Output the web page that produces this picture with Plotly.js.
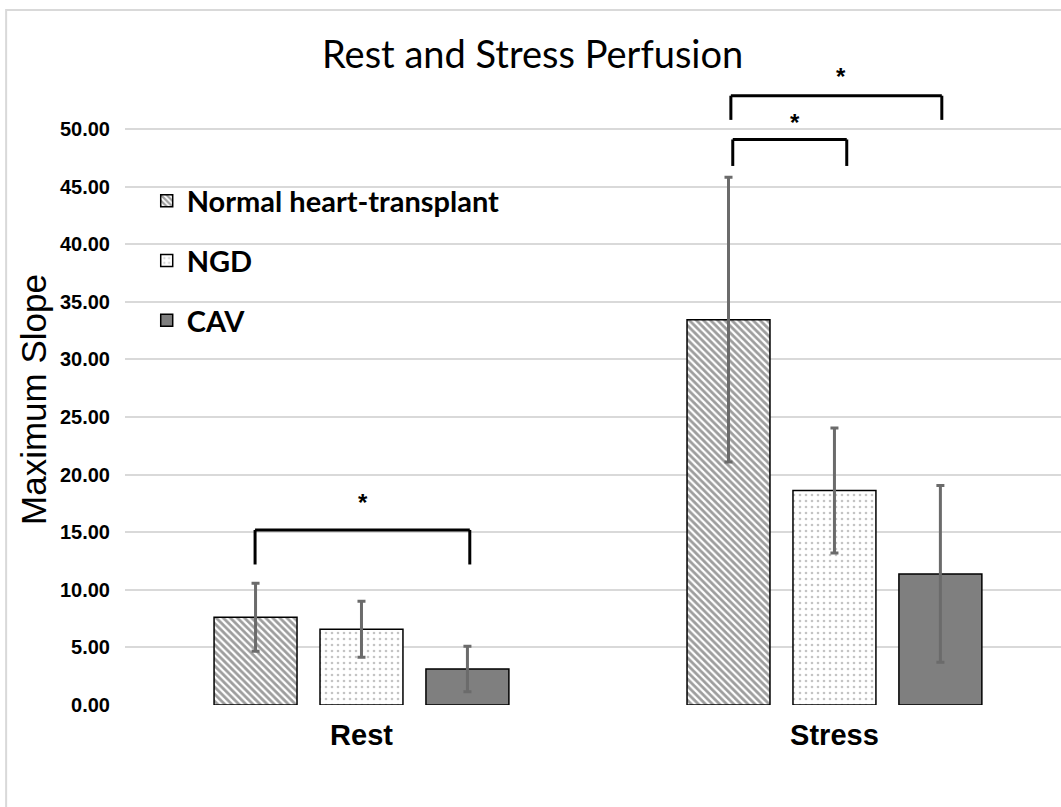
<!DOCTYPE html>
<html>
<head>
<meta charset="utf-8">
<script src="https://cdn.plot.ly/plotly-3.0.1.min.js"></script>
<style>
  html, body { margin: 0; padding: 0; background: #ffffff; }
  #chart { width: 1061px; height: 807px; }
</style>
</head>
<body>
<div id="chart"></div>
<script>
// ---- data ----
var categories = ['Rest', 'Stress'];
var seriesNames = ['Normal heart-transplant', 'NGD', 'CAV'];
var normalValues = [7.62, 33.45];
var normalErrors = [2.95, 12.36];
var ngdValues = [6.58, 18.62];
var ngdErrors = [2.43, 5.42];
var cavValues = [3.13, 11.38];
var cavErrors = [1.97, 7.67];
var yTickValues = [0, 5, 10, 15, 20, 25, 30, 35, 40, 45, 50];
var yAxisTitle = 'Maximum Slope';
var chartTitle = 'Rest and Stress Perfusion';

// significance brackets (x in category index units, y in data units)
var bracketLeft = [-0.225, 0.785, 0.781];
var bracketRight = [0.229, 1.026, 1.227];
var bracketTop = [15.2, 49.1, 52.9];
var bracketBottom = [12.2, 46.8, 50.8];
var starX = [0.003, 0.916, 1.014];
var starY = [17.6, 50.6, 54.6];
var starText = ['*', '*', '*'];

var errStyle = function (arr) {
  return { type: 'data', array: arr, visible: true, color: '#6b6b6b', thickness: 3, width: 4 };
};

var traces = [
  {
    type: 'bar', name: seriesNames[0], x: categories, y: normalValues,
    error_y: errStyle(normalErrors), legendgroup: 'g1',
    marker: {
      color: '#ffffff',
      line: { color: '#000000', width: 1.5 },
      pattern: { shape: '\\', fgcolor: '#3c3c3c', bgcolor: '#ffffff', size: 5, solidity: 0.55, fillmode: 'overlay' }
    }
  },
  {
    type: 'bar', name: seriesNames[1], x: categories, y: ngdValues,
    error_y: errStyle(ngdErrors), legendgroup: 'g2',
    marker: {
      color: '#ffffff',
      line: { color: '#000000', width: 1.5 },
      pattern: { shape: '.', fgcolor: '#8a8a8a', bgcolor: '#ffffff', size: 6, solidity: 0.15, fillmode: 'overlay' }
    }
  },
  {
    type: 'bar', name: seriesNames[2], x: categories, y: cavValues,
    error_y: errStyle(cavErrors), legendgroup: 'g3',
    marker: { color: '#7f7f7f', line: { color: '#000000', width: 1.5 } }
  }
];

var shapes = [
  // outer frame of the picture
  { type: 'rect', xref: 'paper', yref: 'paper', x0: -0.127, x1: 1.2, y0: -0.4, y1: 1.0775,
    line: { color: '#d9d9d9', width: 2 }, fillcolor: 'rgba(0,0,0,0)', layer: 'below' }
];
for (var i = 0; i < bracketLeft.length; i++) {
  var ln = { color: '#000000', width: 3 };
  shapes.push({ type: 'line', xref: 'x', yref: 'y', x0: bracketLeft[i], x1: bracketRight[i], y0: bracketTop[i], y1: bracketTop[i], line: ln });
  shapes.push({ type: 'line', xref: 'x', yref: 'y', x0: bracketLeft[i], x1: bracketLeft[i], y0: bracketTop[i], y1: bracketBottom[i], line: ln });
  shapes.push({ type: 'line', xref: 'x', yref: 'y', x0: bracketRight[i], x1: bracketRight[i], y0: bracketTop[i], y1: bracketBottom[i], line: ln });
}
var annotations = [];
for (var j = 0; j < starX.length; j++) {
  annotations.push({ xref: 'x', yref: 'y', x: starX[j], y: starY[j], text: starText[j], showarrow: false,
    xanchor: 'center', yanchor: 'middle',
    font: { family: 'Liberation Sans, Arial, sans-serif', size: 24, color: '#000000', weight: 'bold' } });
}
// y-axis title, placed slightly below the plot centre as in the reference
annotations.push({ xref: 'paper', yref: 'paper', x: -0.0972, y: 0.473, text: yAxisTitle, showarrow: false,
  textangle: -90, xanchor: 'center', yanchor: 'middle',
  font: { family: 'Liberation Sans, Arial, sans-serif', size: 35, color: '#000000' } });

var layout = {
  width: 1061, height: 807,
  paper_bgcolor: '#ffffff', plot_bgcolor: '#ffffff',
  margin: { l: 125, r: 0, t: 60, b: 102, pad: 0 },
  title: {
    text: chartTitle,
    font: { family: 'Lato, Open Sans, sans-serif', size: 38, color: '#000000' },
    xref: 'container', yref: 'container', x: 0.502, xanchor: 'center', y: 0.932, yanchor: 'middle'
  },
  barmode: 'group', bargap: 0.328, bargroupgap: 0.217,
  xaxis: {
    type: 'category', range: [-0.5, 1.479], showgrid: false, zeroline: false, showline: false,
    ticks: '', ticklabelstandoff: 10,
    tickfont: { family: 'Liberation Sans, Arial, sans-serif', size: 29, color: '#000000', weight: 'bold' }
  },
  yaxis: {
    range: [0, 56], tickvals: yTickValues, tickformat: '.2f',
    showgrid: true, gridcolor: '#d9d9d9', gridwidth: 2, zeroline: false, showline: false,
    ticks: '', ticklabelstandoff: 14,
    tickfont: { family: 'Liberation Sans, Arial, sans-serif', size: 20, color: '#000000', weight: 'bold' }
  },
  showlegend: true,
  legend: {
    x: 0.0232, y: 0.821, xanchor: 'left', yanchor: 'top', bgcolor: 'rgba(0,0,0,0)',
    traceorder: 'grouped', tracegroupgap: 19, itemwidth: 30,
    font: { family: 'Lato, Open Sans, sans-serif', size: 29, color: '#000000', weight: 'bold' }
  },
  shapes: shapes,
  annotations: annotations
};

Plotly.newPlot('chart', traces, layout, { displayModeBar: false, staticPlot: true });
</script>
</body>
</html>
